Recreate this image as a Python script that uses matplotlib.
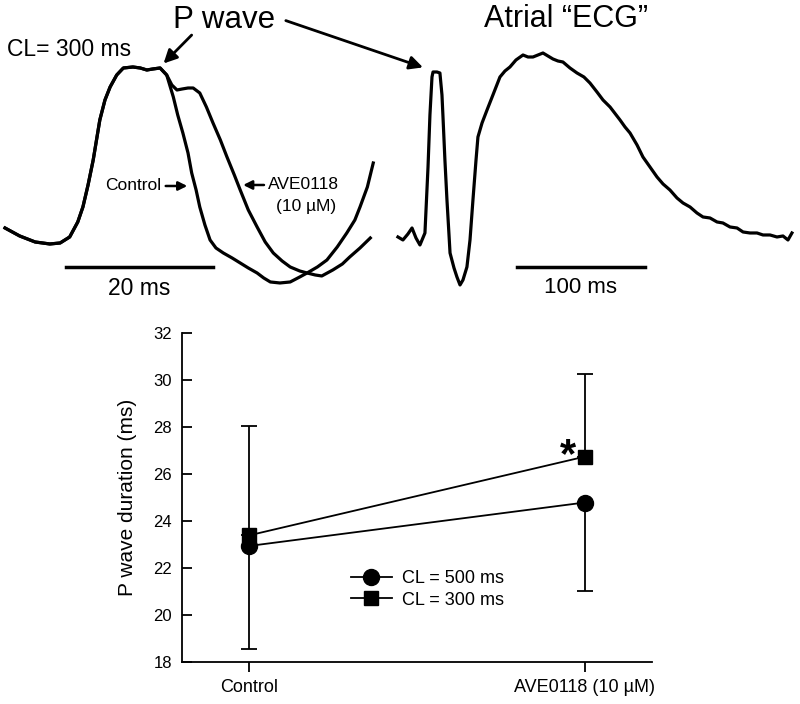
import matplotlib
matplotlib.use("Agg")
import matplotlib.pyplot as plt
from matplotlib.patches import FancyArrowPatch

plt.rcParams['font.family'] = ['Liberation Sans', 'DejaVu Sans']

# --- P wave traces (time in ms, amplitude in arbitrary units), CL = 300 ms ---
shared_t = [-8.3, -6.3, -4.2, -2.2, -0.8, 0.5, 1.6, 2.3, 3.0, 3.7, 4.6, 5.3, 6.0,
            6.9, 7.8, 9.1, 10.1, 11.0, 11.8, 12.8, 13.7]
shared_a = [0.72, 0.64, 0.58, 0.56, 0.57, 0.63, 0.78, 0.93, 1.15, 1.40, 1.80, 2.00,
            2.13, 2.25, 2.32, 2.33, 2.32, 2.30, 2.31, 2.32, 2.25]

control_t = [14.6, 15.2, 15.9, 16.6, 17.1, 17.7, 18.2, 18.9, 19.6, 20.4, 21.4, 22.6,
             23.7, 24.8, 26.0, 26.9, 27.8, 29.1, 30.5, 31.8, 32.8, 34.2, 35.5, 36.9,
             38.2, 39.3, 40.0, 41.0, 41.8]
control_a = [2.03, 1.85, 1.67, 1.47, 1.27, 1.10, 0.93, 0.75, 0.60, 0.52, 0.47, 0.42,
             0.37, 0.32, 0.27, 0.22, 0.18, 0.17, 0.18, 0.23, 0.27, 0.33, 0.40, 0.53,
             0.67, 0.80, 0.93, 1.13, 1.37]

ave_t = [14.4, 15.1, 15.8, 16.6, 17.3, 18.2, 19.1, 20.0, 21.0, 21.9, 22.9, 23.7,
         24.8, 26.0, 27.1, 28.2, 29.4, 30.5, 31.8, 32.8, 33.9, 34.8, 36.3, 37.6,
         38.6, 40.0, 41.4]
ave_a = [2.15, 2.10, 2.11, 2.12, 2.12, 2.07, 1.93, 1.77, 1.60, 1.43, 1.25, 1.10,
         0.90, 0.73, 0.58, 0.47, 0.39, 0.33, 0.29, 0.27, 0.25, 0.24, 0.30, 0.36,
         0.43, 0.52, 0.62]

# --- Atrial "ECG" trace ---
ecg_t = [-93.0, -89.1, -85.2, -82.0, -78.9, -75.8, -71.9, -69.5, -68.0, -66.4, -65.6,
         -62.5, -60.2, -58.6, -57.8, -56.3, -54.7, -53.1, -52.3, -49.2, -46.9, -44.5,
         -42.2, -39.1, -36.7, -34.4, -32.0, -30.5, -27.3, -23.4, -18.8, -13.3, -9.4,
         -5.5, -0.8, 4.7, 8.6, 12.5, 16.4, 20.3, 24.2, 28.1, 32.0, 35.9, 41.4, 46.9,
         52.3, 57.0, 62.5, 67.2, 72.7, 80.5, 84.4, 88.3, 93.8, 98.4, 103.9, 109.4,
         114.1, 119.5, 125.0, 129.7, 135.2, 140.6, 145.3, 150.8, 156.3, 160.9, 166.4,
         171.9, 176.6, 182.0, 187.5, 192.2, 197.7, 203.1, 207.8, 211.7, 214.8]
ecg_a = [0.63, 0.60, 0.66, 0.72, 0.62, 0.55, 0.67, 1.33, 1.85, 2.23, 2.28, 2.28, 2.27,
         2.05, 1.83, 1.40, 1.00, 0.65, 0.47, 0.32, 0.23, 0.15, 0.20, 0.33, 0.60, 1.00,
         1.40, 1.63, 1.77, 1.90, 2.05, 2.23, 2.29, 2.33, 2.40, 2.45, 2.43, 2.43, 2.45,
         2.47, 2.44, 2.41, 2.39, 2.38, 2.32, 2.27, 2.23, 2.17, 2.08, 2.00, 1.93, 1.80,
         1.73, 1.67, 1.55, 1.43, 1.33, 1.23, 1.16, 1.10, 1.02, 0.97, 0.93, 0.87, 0.83,
         0.82, 0.78, 0.77, 0.73, 0.72, 0.68, 0.67, 0.67, 0.65, 0.65, 0.63, 0.64, 0.60,
         0.67]

# --- P wave duration summary ---
groups = ["Control", "AVE0118 (10 \u00b5M)"]
cl500_mean = [22.95, 24.8]
cl500_err_low = [4.4, 3.75]
cl300_mean = [23.4, 26.75]
cl300_err_high = [4.65, 3.5]

fig = plt.figure(figsize=(8, 7.04), dpi=100)

# top-left: P wave overlay
ax1 = fig.add_axes([0.0, 0.5597, 0.5, 0.4403])
ax1.plot(shared_t + control_t, shared_a + control_a, color='black', lw=2.3,
         solid_joinstyle='round')
ax1.plot(shared_t + ave_t, shared_a + ave_a, color='black', lw=2.3,
         solid_joinstyle='round')
ax1.plot([0, 20], [0.33, 0.33], color='black', lw=2.5)
ax1.text(10, 0.11, "20 ms", ha='center', va='center', fontsize=16.5)
ax1.set_xlim(-8.98, 45.44)
ax1.set_ylim(-0.1, 3.0)
ax1.axis('off')

ax1.text(-8.0, 2.5, "CL= 300 ms", ha='left', va='center', fontsize=16.5)
ax1.annotate("Control", xy=(16.5, 1.14), xytext=(13.0, 1.14),
             ha='right', va='center', fontsize=12.5,
             arrowprops=dict(arrowstyle='-|>', color='black', lw=1.8,
                             mutation_scale=13, shrinkA=1, shrinkB=0))
ax1.annotate("AVE0118", xy=(24.1, 1.15), xytext=(27.5, 1.15),
             ha='left', va='center', fontsize=12.5,
             arrowprops=dict(arrowstyle='-|>', color='black', lw=1.8,
                             mutation_scale=13, shrinkA=1, shrinkB=0))
ax1.text(28.6, 0.93, "(10 \u00b5M)", ha='left', va='center', fontsize=12.5)

# top-right: atrial ECG
ax2 = fig.add_axes([0.4875, 0.5597, 0.5125, 0.4403])
ax2.plot(ecg_t, ecg_a, color='black', lw=2.3, solid_joinstyle='round')
ax2.plot([0, 100], [0.33, 0.33], color='black', lw=2.5)
ax2.text(50, 0.12, "100 ms", ha='center', va='center', fontsize=16)
ax2.set_xlim(-99.2, 221.1)
ax2.set_ylim(-0.1, 3.0)
ax2.axis('off')

# headings and arrows
fig.text(0.28, 0.972, "P wave", ha='center', va='center', fontsize=22.5)
fig.text(0.707, 0.973, "Atrial \u201cECG\u201d", ha='center', va='center', fontsize=22)
fig.add_artist(FancyArrowPatch((0.242, 0.953), (0.202, 0.907),
                               transform=fig.transFigure, arrowstyle='-|>',
                               mutation_scale=20, color='black', lw=2))
fig.add_artist(FancyArrowPatch((0.354, 0.972), (0.532, 0.903),
                               transform=fig.transFigure, arrowstyle='-|>',
                               mutation_scale=20, color='black', lw=2))

# bottom: summary plot
ax = fig.add_axes([0.2271, 0.0592, 0.5875, 0.4673])
x = [0, 1]
ax.errorbar(x, cl500_mean, yerr=[cl500_err_low, [0, 0]], fmt='none',
            ecolor='black', elinewidth=1.3, capsize=6, capthick=1.3)
ax.errorbar(x, cl300_mean, yerr=[[0, 0], cl300_err_high], fmt='none',
            ecolor='black', elinewidth=1.3, capsize=6, capthick=1.3)
ax.plot(x, cl500_mean, color='black', lw=1.3, marker='o', markersize=11.5,
        label="CL = 500 ms")
ax.plot(x, cl300_mean, color='black', lw=1.3, marker='s', markersize=9.5,
        label="CL = 300 ms")
ax.text(0.95, 26.78, "*", ha='center', va='center', fontsize=30, fontweight='bold')

ax.set_xlim(-0.2, 1.2)
ax.set_ylim(18, 32)
ax.set_yticks(range(18, 33, 2))
ax.set_xticks(x)
ax.set_xticklabels(groups)
ax.tick_params(axis='y', labelsize=12, length=7, width=1.3, direction='in', pad=7)
ax.tick_params(axis='x', labelsize=13, length=7, width=1.3, direction='out', pad=5)
ax.set_ylabel("P wave duration (ms)", fontsize=15, labelpad=12)
for side in ['top', 'right']:
    ax.spines[side].set_visible(False)
for side in ['left', 'bottom']:
    ax.spines[side].set_linewidth(1.3)

ax.legend(loc='upper left', bbox_to_anchor=(0.427, 0.203),
          bbox_transform=fig.transFigure, frameon=False, fontsize=13,
          handlelength=2.3, handletextpad=0.55, labelspacing=0.25, borderpad=0)

fig.savefig("out.png", dpi=100)
